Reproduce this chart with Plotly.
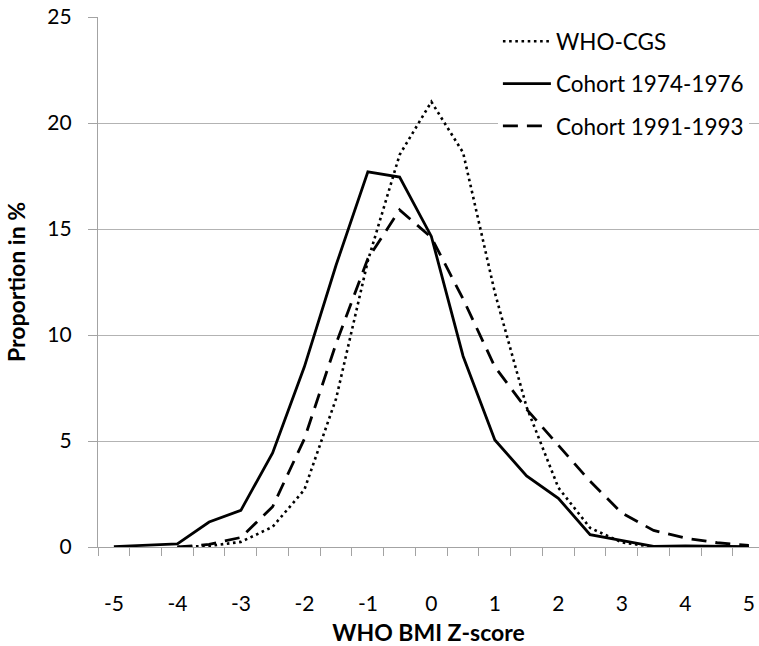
import plotly.graph_objects as go

z_scores = [-5, -4.5, -4, -3.5, -3, -2.5, -2, -1.5, -1, -0.5, 0, 0.5, 1, 1.5, 2, 2.5, 3, 3.5, 4, 4.5, 5]
who_cgs = [None, None, 0.0, 0.05, 0.24, 0.95, 2.7, 7.0, 13.5, 18.5, 21.0, 18.6, 12.0, 6.6, 2.8, 0.9, 0.22, 0.0, 0.0, 0.0, 0.0]
cohort_1974 = [0.02, 0.07, 0.15, 1.18, 1.73, 4.44, 8.5, 13.3, 17.7, 17.45, 14.65, 9.0, 5.05, 3.35, 2.3, 0.58, 0.32, 0.03, 0.05, 0.02, 0.02]
cohort_1991 = [None, None, 0.0, 0.12, 0.45, 1.9, 5.1, 9.6, 13.6, 15.9, 14.6, 11.7, 8.5, 6.5, 4.8, 3.1, 1.6, 0.78, 0.42, 0.2, 0.08]
x_tick_vals = [-5, -4, -3, -2, -1, 0, 1, 2, 3, 4, 5]
x_tick_text = ["-5", "-4", "-3", "-2", "-1", "0", "1", "2", "3", "4", "5"]
y_tick_vals = [0, 5, 10, 15, 20, 25]

FONT = "Lato"
FS = 21
AX = "#a3a3a3"
fig = go.Figure()
fig.add_trace(go.Scatter(x=z_scores, y=who_cgs, mode="lines", name="WHO-CGS",
                         legendgroup="a",
                         line=dict(color="black", width=2.6, dash="2.6px,3.6px")))
fig.add_trace(go.Scatter(x=z_scores, y=cohort_1974, mode="lines", name="Cohort 1974-1976",
                         legendgroup="b",
                         line=dict(color="black", width=2.8)))
fig.add_trace(go.Scatter(x=z_scores, y=cohort_1991, mode="lines", name="Cohort 1991-1993",
                         legendgroup="c",
                         line=dict(color="black", width=2.8, dash="15px,9px")))

fig.update_layout(
    width=759, height=646,
    margin=dict(l=98, r=0, t=17, b=99),
    paper_bgcolor="white", plot_bgcolor="white",
    font=dict(family=FONT, size=FS, color="black"),
    showlegend=True,
    legend=dict(x=0.605, y=0.994, xanchor="left", yanchor="top",
                bgcolor="white", borderwidth=0,
                font=dict(family=FONT, size=22.5, color="black"),
                traceorder="grouped", tracegroupgap=10, itemwidth=48),
)
fig.update_xaxes(
    range=[-5.25, 5.16], automargin=False,
    tickmode="array", tickvals=x_tick_vals, ticktext=x_tick_text,
    ticks="", showgrid=False, zeroline=False,
    showline=True, linecolor=AX, linewidth=1.3,
    ticklabelstandoff=38, ticklabeloverflow="allow",
    tickfont=dict(family=FONT, size=FS, color="black"),
    minor=dict(tickmode="linear", tick0=-5.25, dtick=0.5, ticks="outside",
               ticklen=8, tickcolor=AX, tickwidth=1.3, showgrid=False),
    title=dict(text="<b>WHO BMI Z-score</b>", standoff=12,
               font=dict(family=FONT, size=23, color="black")),
)
fig.update_yaxes(
    range=[0, 25], automargin=False,
    tickmode="array", tickvals=y_tick_vals,
    ticks="outside", ticklen=9, tickcolor=AX, tickwidth=1.3,
    showgrid=True, gridcolor="#b3b3b3", gridwidth=1.2,
    zeroline=False, showline=True, linecolor=AX, linewidth=1.3,
    ticklabelstandoff=12, ticklabeloverflow="allow",
    tickfont=dict(family=FONT, size=FS, color="black"),
    title=dict(text="<b>Proportion in %</b>", standoff=15,
               font=dict(family=FONT, size=23, color="black")),
)

fig.write_html(
    "out.html",
    config={"displayModeBar": False},
    post_script="document.body.style.margin='0';document.body.style.overflow='hidden';",
)
